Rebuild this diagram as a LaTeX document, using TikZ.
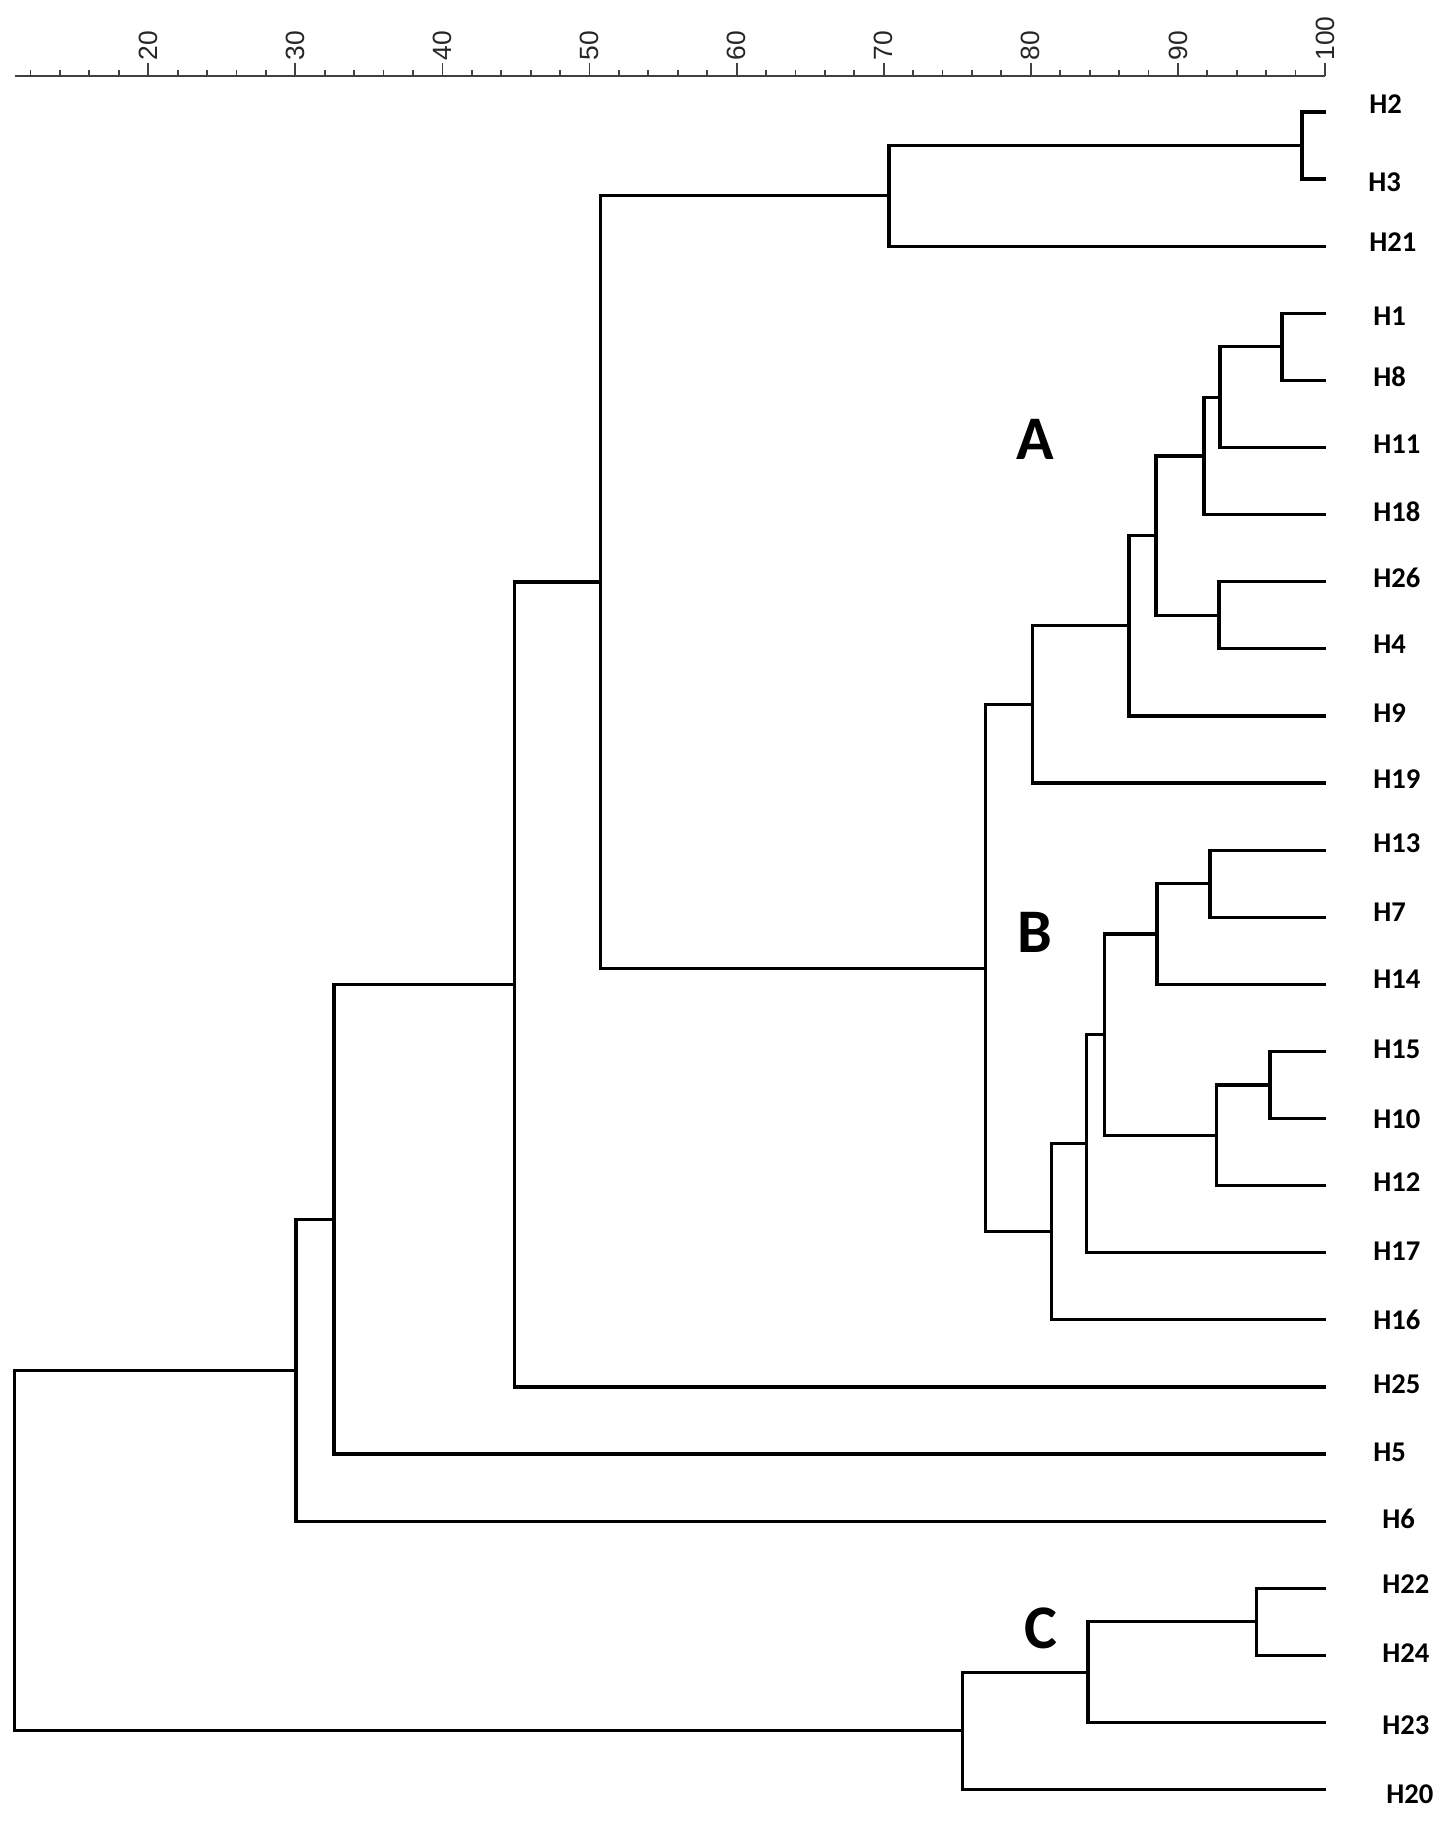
\documentclass[tikz,border=0pt]{standalone}
\usepackage{fontspec}
\setmainfont{Carlito}
\newfontfamily\axfont{Liberation Sans}
\begin{document}
\begin{tikzpicture}[x=0.5pt,y=-0.5pt,
  br/.style={line width=1.6pt, black},
  axisline/.style={line width=1.2pt, black!75},
  tickline/.style={line width=0.9pt, black!75},
  leaflab/.style={anchor=west, inner sep=0pt, font=\fontsize{14.3}{16}\selectfont\bfseries},
  grp/.style={inner sep=0pt, font=\fontsize{31}{34}\selectfont\bfseries},
  axlab/.style={rotate=90, anchor=west, inner sep=0pt, text=black!85, font=\axfont\fontsize{13.2}{15}\selectfont}]
\fill[white] (0,0) rectangle (1450,1830);
\useasboundingbox (0,0) rectangle (1450,1830);

% ---- scale axis ----
\coordinate (axL) at (15,76);
\coordinate (axR) at (1325,76);
\draw[axisline] (axL) -- (axR);
\foreach \v in {12,14,...,98} {
  \coordinate (mt\v) at ({-146+14.71*\v},76);
  \draw[tickline] (mt\v) -- ++(0,-6);
}
\foreach \v in {20,30,...,100} {
  \coordinate (Mt\v) at ({-146+14.71*\v},76);
  \draw[tickline] (Mt\v) -- ++(0,-13);
  \node[axlab] (ax\v) at ({-146+14.71*\v},61) {\v};
}

% ---- leaf ends ----
\coordinate (l2)  at (1326,112);
\coordinate (l3)  at (1326,179.1);
\coordinate (l21) at (1326,246.2);
\coordinate (l1)  at (1326,313.3);
\coordinate (l8)  at (1326,380.4);
\coordinate (l11) at (1326,447.5);
\coordinate (l18) at (1326,514.6);
\coordinate (l26) at (1326,581.7);
\coordinate (l4)  at (1326,648.8);
\coordinate (l9)  at (1326,715.9);
\coordinate (l19) at (1326,783);
\coordinate (l13) at (1326,850.1);
\coordinate (l7)  at (1326,917.2);
\coordinate (l14) at (1326,984.3);
\coordinate (l15) at (1326,1051.4);
\coordinate (l10) at (1326,1118.5);
\coordinate (l12) at (1326,1185.6);
\coordinate (l17) at (1326,1252.7);
\coordinate (l16) at (1326,1319.8);
\coordinate (l25) at (1326,1386.9);
\coordinate (l5)  at (1326,1454);
\coordinate (l6)  at (1326,1521.1);
\coordinate (l22) at (1326,1588.2);
\coordinate (l24) at (1326,1655.3);
\coordinate (l23) at (1326,1722.4);
\coordinate (l20) at (1326,1789.5);

% ---- leaf labels ----
\node[leaflab] (t2)  at (1369,104)    {H2};
\node[leaflab] (t3)  at (1368,182)    {H3};
\node[leaflab] (t21) at (1369,242.5)  {H21};
\node[leaflab] (t1)  at (1373,316)    {H1};
\node[leaflab] (t8)  at (1373,376.5)  {H8};
\node[leaflab] (t11) at (1373,444)    {H11};
\node[leaflab] (t18) at (1373,511.5)  {H18};
\node[leaflab] (t26) at (1373,577.5)  {H26};
\node[leaflab] (t4)  at (1373,644.5)  {H4};
\node[leaflab] (t9)  at (1373,713)    {H9};
\node[leaflab] (t19) at (1373,779.5)  {H19};
\node[leaflab] (t13) at (1373,843)    {H13};
\node[leaflab] (t7)  at (1373,912)    {H7};
\node[leaflab] (t14) at (1373,979)    {H14};
\node[leaflab] (t15) at (1373,1049.5) {H15};
\node[leaflab] (t10) at (1373,1119)   {H10};
\node[leaflab] (t12) at (1373,1182)   {H12};
\node[leaflab] (t17) at (1373,1251)   {H17};
\node[leaflab] (t16) at (1373,1320)   {H16};
\node[leaflab] (t25) at (1373,1384)   {H25};
\node[leaflab] (t5)  at (1373,1452)   {H5};
\node[leaflab] (t6)  at (1382,1518.5) {H6};
\node[leaflab] (t22) at (1382,1584.5) {H22};
\node[leaflab] (t24) at (1382,1653.5) {H24};
\node[leaflab] (t23) at (1382,1725)   {H23};
\node[leaflab] (t20) at (1386,1794)   {H20};

% ---- internal nodes ----
\coordinate (n23)   at (1302,145.55);
\coordinate (n21)   at (889,195.9);
\coordinate (a18)   at (1282,346.85);
\coordinate (a11)   at (1220,397.2);
\coordinate (a1)    at (1204,455.9);
\coordinate (a264)  at (1219,615.25);
\coordinate (aj)    at (1156,535.6);
\coordinate (a9)    at (1129,625.75);
\coordinate (a19)   at (1032.7,704.4);
\coordinate (b137)  at (1210,883.65);
\coordinate (b14)   at (1157,934);
\coordinate (b1510) at (1270,1084.95);
\coordinate (b12)   at (1216.7,1135.3);
\coordinate (bj)    at (1104.3,1034.65);
\coordinate (b17)   at (1086.7,1143.7);
\coordinate (b16)   at (1051.7,1231.75);
\coordinate (nB)    at (985.7,968.1);
\coordinate (nTop)  at (600.4,582);
\coordinate (n25)   at (514.3,984.45);
\coordinate (n5)    at (334,1219.2);
\coordinate (n6)    at (296,1370.15);
\coordinate (c2224) at (1256.7,1621.75);
\coordinate (c23)   at (1088,1672.1);
\coordinate (c20)   at (962.8,1730.8);
\coordinate (root)  at (14.5,1550.5);

% ---- brackets ----
\draw[br] (l2) -| (n23) |- (l3);
\draw[br] (n23) -| (n21) |- (l21);
\draw[br] (l1) -| (a18) |- (l8);
\draw[br] (a18) -| (a11) |- (l11);
\draw[br] (a11) -| (a1) |- (l18);
\draw[br] (l26) -| (a264) |- (l4);
\draw[br] (a1) -| (aj) |- (a264);
\draw[br] (aj) -| (a9) |- (l9);
\draw[br] (a9) -| (a19) |- (l19);
\draw[br] (l13) -| (b137) |- (l7);
\draw[br] (b137) -| (b14) |- (l14);
\draw[br] (l15) -| (b1510) |- (l10);
\draw[br] (b1510) -| (b12) |- (l12);
\draw[br] (b14) -| (bj) |- (b12);
\draw[br] (bj) -| (b17) |- (l17);
\draw[br] (b17) -| (b16) |- (l16);
\draw[br] (a19) -| (nB) |- (b16);
\draw[br] (n21) -| (nTop) |- (nB);
\draw[br] (nTop) -| (n25) |- (l25);
\draw[br] (n25) -| (n5) |- (l5);
\draw[br] (n5) -| (n6) |- (l6);
\draw[br] (l22) -| (c2224) |- (l24);
\draw[br] (c2224) -| (c23) |- (l23);
\draw[br] (c23) -| (c20) |- (l20);
\draw[br] (n6) -| (root) |- (c20);

% ---- group letters ----
\node[grp] (gA) at (1035,439) {A};
\node[grp] (gB) at (1035,932) {B};
\node[grp] (gC) at (1041,1628) {C};
\end{tikzpicture}
\end{document}
